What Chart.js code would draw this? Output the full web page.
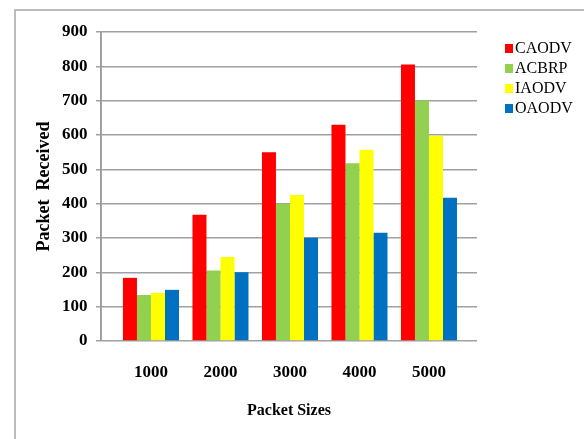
<!DOCTYPE html>
<html>
<head>
<meta charset="utf-8">
<script src="https://cdn.jsdelivr.net/npm/chart.js@4/dist/chart.umd.min.js"></script>
<style>
  html, body { margin: 0; padding: 0; background: #fff; }
  #wrap { width: 584px; height: 439px; }
</style>
</head>
<body>
<div id="wrap"><canvas id="c" width="584" height="439"></canvas></div>
<script>
// Packet sizes on the x axis
const categories = ['1000', '2000', '3000', '4000', '5000'];

// Packets received per protocol
const caodv = [184, 368, 550, 630, 805];
const acbrp = [134, 205, 400, 518, 700];
const iaodv = [140, 245, 425, 557, 598];
const oaodv = [149, 200, 301, 315, 417];

const seriesNames = ['CAODV', 'ACBRP', 'IAODV', 'OAODV'];
const seriesValues = [caodv, acbrp, iaodv, oaodv];
const seriesColors = ['#ff0000', '#92d050', '#ffff00', '#0070c0'];

const yTicks = [0, 100, 200, 300, 400, 500, 600, 700, 800, 900];

const SERIF = '"Liberation Serif", "Times New Roman", serif';

// Outer frame of the figure
const framePlugin = {
  id: 'frame',
  beforeDraw(chart) {
    const ctx = chart.ctx;
    ctx.save();
    ctx.fillStyle = '#ffffff';
    ctx.fillRect(0, 0, chart.width, chart.height);
    ctx.strokeStyle = '#a6a6a6';
    ctx.lineWidth = 1.5;
    ctx.beginPath();
    ctx.moveTo(15, chart.height);
    ctx.lineTo(15, 10);
    ctx.lineTo(chart.width, 10);
    ctx.stroke();
    ctx.restore();
  }
};

// Vertical value axis line along the left edge of the plot
const axisLine = {
  id: 'axisLine',
  afterDatasetsDraw(chart) {
    const { ctx, chartArea } = chart;
    ctx.save();
    ctx.strokeStyle = '#9a9a9a';
    ctx.lineWidth = 1.5;
    ctx.beginPath();
    ctx.moveTo(chartArea.left, chartArea.top);
    ctx.lineTo(chartArea.left, chartArea.bottom);
    ctx.stroke();
    ctx.restore();
  }
};

// Legend with small square swatches on the right
const sideLegend = {
  id: 'sideLegend',
  afterDraw(chart) {
    const ctx = chart.ctx;
    ctx.save();
    ctx.font = '16px ' + SERIF;
    ctx.textBaseline = 'middle';
    ctx.textAlign = 'left';
    chart.data.datasets.forEach((ds, i) => {
      const y = 48 + i * 20;
      ctx.fillStyle = ds.backgroundColor;
      ctx.fillRect(505, y - 4, 8, 9);
      ctx.fillStyle = '#000';
      ctx.fillText(ds.label, 515, y + 1);
    });
    ctx.restore();
  }
};

const datasets = seriesNames.map((name, i) => ({
  label: name,
  data: seriesValues[i].map((v, j) => ({ x: j + 1, y: v })),
  backgroundColor: seriesColors[i],
  borderWidth: 0,
  categoryPercentage: 0.806,
  barPercentage: 1.0
}));

new Chart(document.getElementById('c'), {
  type: 'bar',
  data: { datasets },
  plugins: [framePlugin, axisLine, sideLegend],
  options: {
    responsive: false,
    animation: false,
    layout: { padding: { left: 0, top: 32, right: 107, bottom: 0 } },
    plugins: {
      legend: { display: false },
      tooltip: { enabled: false }
    },
    scales: {
      x: {
        type: 'linear',
        offset: false,
        min: 0.281,
        max: 5.691,
        grid: { display: false, drawTicks: false },
        border: { display: false },
        afterBuildTicks(scale) {
          scale.ticks = categories.map((c, i) => ({ value: i + 1 }));
        },
        ticks: {
          padding: 21,
          color: '#000',
          font: { family: SERIF, size: 17, weight: 'bold' },
          callback: (v) => categories[Math.round(v) - 1]
        },
        title: {
          display: true,
          text: 'Packet Sizes',
          color: '#000',
          font: { family: SERIF, size: 16, weight: 'bold' },
          padding: { top: 0, bottom: 19 }
        },
        afterFit(scale) { scale.height = 98; }
      },
      y: {
        min: 0,
        max: 900,
        afterBuildTicks(scale) {
          scale.ticks = yTicks.map(v => ({ value: v }));
        },
        grid: {
          color: '#a0a0a0',
          lineWidth: 1.5,
          tickLength: 5,
          drawTicks: true
        },
        border: { display: true, color: '#9a9a9a', width: 1.5 },
        ticks: {
          padding: 8.5,
          color: '#000',
          font: { family: SERIF, size: 17, weight: 'bold' }
        },
        title: {
          display: true,
          text: 'Packet  Received',
          color: '#000',
          font: { family: SERIF, size: 18, weight: 'bold' },
          padding: { top: 34, bottom: 0 }
        },
        afterFit(scale) { scale.width = 101; }
      }
    }
  }
});
</script>
</body>
</html>
